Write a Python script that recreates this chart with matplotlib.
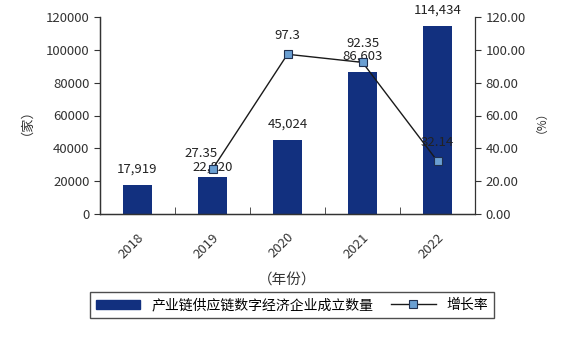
import matplotlib
matplotlib.use("Agg")
import matplotlib.pyplot as plt
from matplotlib.lines import Line2D
from matplotlib.patches import Patch
from matplotlib.transforms import ScaledTranslation

plt.rcParams['font.family'] = ['Noto Sans CJK SC', 'DejaVu Sans']

years = ["2018", "2019", "2020", "2021", "2022"]
firms = [17919, 22820, 45024, 86603, 114434]
growth = [None, 27.35, 97.3, 92.35, 32.14]
growth_labels = ["", "27.35", "97.3", "92.35", "32.14"]

bar_color = "#12307F"
marker_color = "#6A9FD2"
fs = 9.5

fig = plt.figure(figsize=(5.7, 3.42), dpi=100)
ax = fig.add_axes([100 / 570, 1 - 214 / 342, 375 / 570, 197 / 342])
ax2 = ax.twinx()

x = list(range(len(years)))
ax.bar(x, firms, width=0.39, color=bar_color, zorder=2)
# the 2019 count label hugs its bar so the rate label above it stays readable
bar_label_nudge = {1: -3800}
for i, (xi, v) in enumerate(zip(x, firms)):
    ax.text(xi, v + 5500 + bar_label_nudge.get(i, 0), f"{v:,}", ha="center", va="bottom",
            fontsize=fs, color="#222222")

ax.set_xlim(-0.5, 4.5)
ax.set_ylim(0, 120000)
ax.set_yticks(range(0, 120001, 20000))
ax.set_yticklabels([str(v) for v in range(0, 120001, 20000)], fontsize=fs, color="#333333")
ax.set_xticks(x)
ax.set_xticklabels(years, rotation=45, ha="right", rotation_mode="anchor", fontsize=fs, color="#333333")
shift = ScaledTranslation(-6 / 72, 0, fig.dpi_scale_trans)
for lab in ax.get_xticklabels():
    lab.set_transform(lab.get_transform() + shift)
ax.tick_params(axis="x", length=0, pad=12)
ax.set_xticks([0.5, 1.5, 2.5, 3.5], minor=True)
ax.tick_params(axis="x", which="minor", direction="in", length=5, color="#333333")
ax.tick_params(axis="y", direction="out", length=4, color="#333333")
ax.set_ylabel("（家）", fontsize=fs, color="#333333", labelpad=14)
ax.set_xlabel("（年份）", fontsize=fs + 1, color="#333333", labelpad=9)

gx = [xi for xi, g in zip(x, growth) if g is not None]
gy = [g for g in growth if g is not None]
ax2.plot(gx, gy, color="#1a1a1a", linewidth=1.0, marker="s", markersize=6,
         markerfacecolor=marker_color, markeredgecolor="#1f2f4f", markeredgewidth=0.8, zorder=3)
# the first rate label sits a little left and lower so it clears the line
label_nudge = {1: (-0.15, -2.0)}
for i, (xi, g, lab) in enumerate(zip(x, growth, growth_labels)):
    if g is not None:
        dx, dy = label_nudge.get(i, (0, 0))
        ax2.text(xi + dx, g + 7.5 + dy, lab, ha="center", va="bottom", fontsize=fs, color="#222222")
ax2.set_ylim(0, 120)
ax2.set_yticks(range(0, 121, 20))
ax2.set_yticklabels([f"{v:.2f}" for v in range(0, 121, 20)], fontsize=fs, color="#333333")
ax2.tick_params(axis="y", direction="out", length=4, color="#333333")
ax2.set_ylabel("（%）", fontsize=fs - 1, color="#333333", labelpad=2)

for a in (ax, ax2):
    a.spines["top"].set_visible(False)
    for s in ("left", "right", "bottom"):
        a.spines[s].set_color("#333333")
        a.spines[s].set_linewidth(0.9)
ax.spines["right"].set_visible(False)

handles = [Patch(facecolor=bar_color, edgecolor=bar_color),
           Line2D([0], [0], color="#1a1a1a", linewidth=1.0, marker="s", markersize=6,
                  markerfacecolor=marker_color, markeredgecolor="#1f2f4f", markeredgewidth=0.8)]
leg = fig.legend(handles, ["产业链供应链数字经济企业成立数量", "增长率"], ncol=2,
                 loc="center", bbox_to_anchor=(292 / 570, 1 - 305 / 342),
                 fontsize=10, frameon=True, fancybox=False, edgecolor="#222222",
                 handlelength=3.2, handleheight=0.6, columnspacing=1.3, borderpad=0.4,
                 borderaxespad=0.3)
leg.get_frame().set_linewidth(1.0)

fig.savefig("out.png", dpi=100)
